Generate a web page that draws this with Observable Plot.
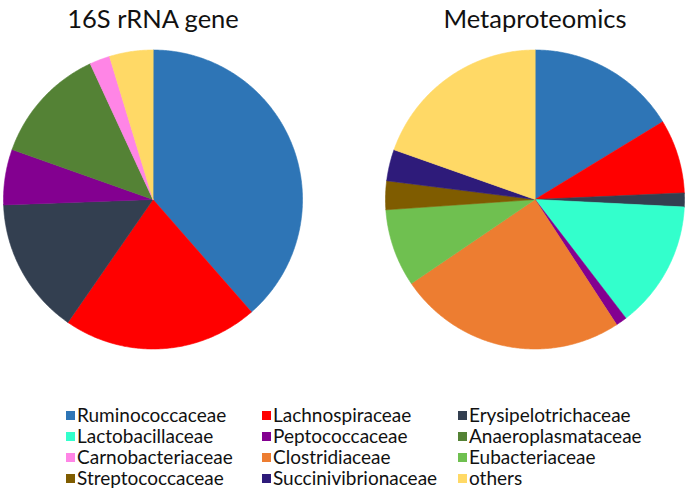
<!DOCTYPE html>
<html>
<head>
<meta charset="utf-8">
<script src="https://cdn.jsdelivr.net/npm/d3@7"></script>
<script src="https://cdn.jsdelivr.net/npm/@observablehq/plot@0.6"></script>
<style>
  html, body { margin: 0; padding: 0; background: #fff; }
  #chart svg { display: block; }
</style>
</head>
<body>
<div id="chart"></div>
<script>
const families = [
  "Ruminococcaceae", "Lachnospiraceae", "Erysipelotrichaceae",
  "Lactobacillaceae", "Peptococcaceae", "Anaeroplasmataceae",
  "Carnobacteriaceae", "Clostridiaceae", "Eubacteriaceae",
  "Streptococcaceae", "Succinivibrionaceae", "others"
];
const colors = [
  "#2E75B6", "#FF0000", "#333F50",
  "#33FFCC", "#830090", "#548235",
  "#FF85E6", "#ED7D31", "#6FC050",
  "#7F5C00", "#2E1B7A", "#FFD966"
];
const charts = ["16S rRNA gene", "Metaproteomics"];
// percentages, in the order of `families`
const rrna16S =        [38.6, 21.1, 14.8, 0,    6.0, 12.7, 2.2, 0,    0,   0,   0,   4.7];
const metaproteomics = [16.3,  8.0,  1.5, 13.8, 1.2, 0,    0,   24.7, 8.4, 3.1, 3.4, 19.6];
const seriesValues = [rrna16S, metaproteomics];

// Build slice polygons (unit circle) from the values with d3.pie
const pieGen = d3.pie().sort(null).value(d => d.value);
const slicePoints = [];
charts.forEach((chart, ci) => {
  const rows = families.map((name, i) => ({name, value: seriesValues[ci][i]}));
  pieGen(rows).forEach(arc => {
    if (arc.data.value <= 0) return;
    const key = chart + "|" + arc.data.name;
    slicePoints.push({chart, name: arc.data.name, key, px: 0, py: 0});
    const n = Math.max(2, Math.ceil((arc.endAngle - arc.startAngle) / (Math.PI / 360)));
    for (let k = 0; k <= n; k++) {
      const a = arc.startAngle + (arc.endAngle - arc.startAngle) * k / n;
      slicePoints.push({chart, name: arc.data.name, key, px: Math.sin(a), py: Math.cos(a)});
    }
  });
});

const pies = Plot.plot({
  width: 687,
  height: 396,
  marginLeft: 3,
  marginRight: 3,
  marginTop: 49.5,
  marginBottom: 47.5,
  style: {background: "#fff", fontFamily: "Lato, sans-serif", color: "#000"},
  fx: {domain: charts, paddingInner: 0.2173, paddingOuter: 0, axis: null},
  x: {domain: [-1, 1], axis: null},
  y: {domain: [-1, 1], axis: null},
  color: {domain: families, range: colors},
  marks: [
    Plot.line(slicePoints, {
      fx: "chart", x: "px", y: "py", z: "key",
      fill: "name", stroke: "name", strokeWidth: 0.6,
      curve: "linear-closed"
    }),
    Plot.text(charts, {
      fx: d => d, text: d => d, frameAnchor: "top",
      lineAnchor: "bottom", dy: -22, fontSize: 25.5, fill: "#111"
    })
  ]
});

const legendRows = families.map((name, i) => ({name, col: i % 3, row: Math.floor(i / 3)}));
const legend = Plot.plot({
  width: 687,
  height: 93,
  marginLeft: 69.5,
  marginRight: 225.5,
  marginTop: 18.5,
  marginBottom: 11.5,
  style: {background: "#fff", fontFamily: "Lato, sans-serif", color: "#000"},
  x: {type: "point", domain: [0, 1, 2], padding: 0, axis: null},
  y: {type: "point", domain: [0, 1, 2, 3], padding: 0, axis: null},
  color: {domain: families, range: colors},
  marks: [
    Plot.dot(legendRows, {x: "col", y: "row", symbol: "square", r: 5.1, fill: "name", stroke: "none"}),
    Plot.text(legendRows, {x: "col", y: "row", text: "name", textAnchor: "start", dx: 6.5, fontSize: 19, fill: "#111"})
  ]
});

document.getElementById("chart").append(pies, legend);
</script>
</body>
</html>
